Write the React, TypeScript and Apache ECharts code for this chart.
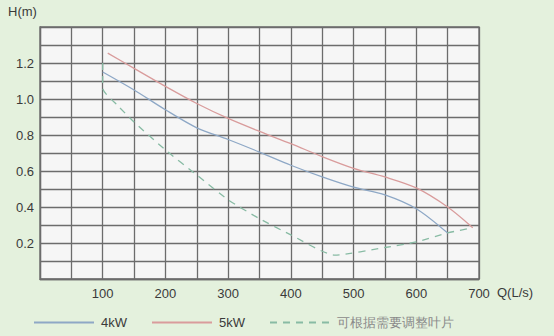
import React, { useEffect, useRef } from "react";
import * as echarts from "echarts";

const seriesNames = ["4kW", "5kW", "可根据需要调整叶片"];
const blue4kW: [number, number][] = [
  [100, 1.15], [150, 1.05], [200, 0.94], [250, 0.84], [300, 0.775], [350, 0.705],
  [400, 0.632], [450, 0.567], [500, 0.51], [550, 0.467], [600, 0.39], [650, 0.255],
];
const red5kW: [number, number][] = [
  [108, 1.255], [150, 1.17], [200, 1.07], [250, 0.975], [300, 0.892], [350, 0.82],
  [400, 0.752], [450, 0.68], [500, 0.615], [550, 0.567], [600, 0.506], [650, 0.4], [690, 0.285],
];
const greenAdjust: [number, number][] = [
  [100, 1.2], [100, 1.06], [125, 0.96], [150, 0.872], [200, 0.717], [250, 0.578],
  [300, 0.44], [350, 0.335], [400, 0.245], [470, 0.133], [550, 0.175], [600, 0.206],
  [650, 0.256], [690, 0.285],
];
const xTickLabels = [100, 200, 300, 400, 500, 600, 700];
const yTickLabels = [0.2, 0.4, 0.6, 0.8, 1.0, 1.2];

export default function App() {
  const ref = useRef<HTMLDivElement>(null);
  useEffect(() => {
    document.body.style.margin = "0";
    const chart = echarts.init(ref.current!, undefined, { renderer: "svg" });
    const font = "Liberation Sans, Arial, sans-serif";
    const gridColor = "#6c6c6c";
    chart.setOption({
      animation: false,
      backgroundColor: "#e4f1dd",
      textStyle: { fontFamily: font },
      grid: {
        left: 40, top: 27, right: 75, bottom: 57,
        show: true, backgroundColor: "#f6f6f6", borderColor: gridColor, borderWidth: 1.3,
      },
      graphic: [
        { type: "text", left: 8, top: 5, style: { text: "H(m)", fontSize: 13, fill: "#3a3a3a", fontFamily: font } },
        { type: "text", left: 497, top: 286, style: { text: "Q(L/s)", fontSize: 13, fill: "#3a3a3a", fontFamily: font } },
      ],
      xAxis: {
        type: "value", min: 0, max: 700, interval: 50,
        axisLine: { lineStyle: { color: gridColor, width: 1.3 } },
        axisTick: { show: false },
        splitLine: { lineStyle: { color: gridColor, width: 1.3 } },
        axisLabel: {
          color: "#3a3a3a", fontSize: 13, margin: 8,
          formatter: (v: number) => (xTickLabels.includes(Math.round(v)) ? String(Math.round(v)) : ""),
        },
      },
      yAxis: {
        type: "value", min: 0, max: 1.4, interval: 0.1,
        axisLine: { show: true, lineStyle: { color: gridColor, width: 1.3 } },
        axisTick: { show: false },
        splitLine: { lineStyle: { color: gridColor, width: 1.3 } },
        axisLabel: {
          color: "#3a3a3a", fontSize: 13, margin: 6,
          formatter: (v: number) => {
            const r = Math.round(v * 10) / 10;
            return yTickLabels.some((t) => Math.abs(t - r) < 1e-6) ? r.toFixed(1) : "";
          },
        },
      },
      legend: {
        left: 28, top: 311, itemWidth: 60, itemHeight: 14, itemGap: 24,
        itemStyle: { opacity: 0 },
        data: [
          { name: seriesNames[0] },
          { name: seriesNames[1] },
          { name: seriesNames[2], textStyle: { color: "#8a8a8a", fontSize: 13 } },
        ],
        textStyle: { fontSize: 13, color: "#3a3a3a", padding: [0, 0, 0, 2] },
      },
      series: [
        {
          name: seriesNames[0], type: "line", data: blue4kW, smooth: 0.3, symbol: "none",
          lineStyle: { color: "#8ea8c6", width: 1.3 }, itemStyle: { color: "#8ea8c6" },
        },
        {
          name: seriesNames[1], type: "line", data: red5kW, smooth: 0.3, symbol: "none",
          lineStyle: { color: "#d99c9c", width: 1.3 }, itemStyle: { color: "#d99c9c" },
        },
        {
          name: seriesNames[2], type: "line", data: greenAdjust, smooth: 0.2, symbol: "none",
          lineStyle: { color: "#88bba4", width: 1.3, type: [7, 6] }, itemStyle: { color: "#88bba4" },
        },
      ],
    });
    return () => chart.dispose();
  }, []);
  return <div ref={ref} style={{ width: 554, height: 336 }} />;
}
